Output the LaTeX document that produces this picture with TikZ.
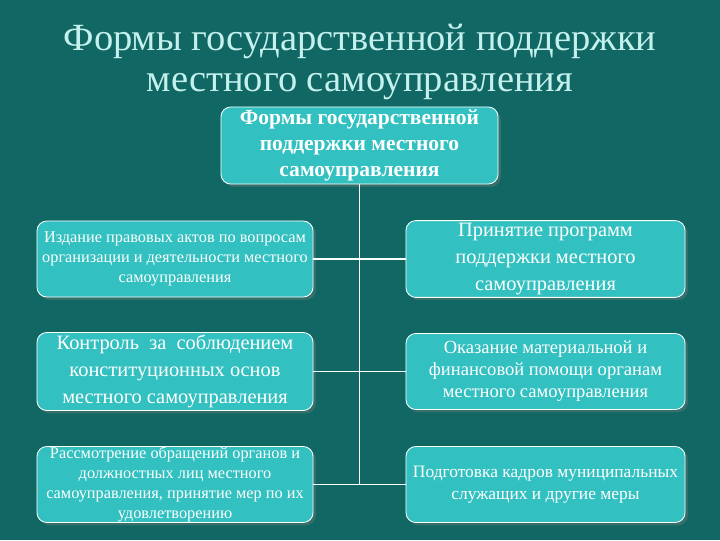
\documentclass[tikz,border=0pt]{standalone}
\usepackage{fontspec}
\setmainfont{Liberation Serif}
\usetikzlibrary{shadows}
\definecolor{bgteal}{RGB}{17,103,99}
\definecolor{boxteal}{RGB}{50,192,192}
\definecolor{titlecyan}{RGB}{196,240,238}

\begin{document}
\begin{tikzpicture}[x=0.025cm, y=-0.025cm,
    formbox/.style={draw=white, line width=0.6pt, fill=boxteal, rounded corners=7pt,
        align=center, text=white, inner sep=2pt, minimum height=1.9cm,
        drop shadow={opacity=0.35, shadow xshift=2pt, shadow yshift=-2pt}},
    link/.style={draw=white, line width=1.4pt}]
    \fill[bgteal] (0,0) rectangle (720,540);

    \node[text=titlecyan, font=\fontsize{27.4}{28.5}\selectfont, align=center] (title) at (360,62)
        {Формы государственной поддержки\\местного самоуправления};

    \node[formbox, minimum width=6.925cm, minimum height=1.875cm, font=\fontsize{15.3}{18.5}\selectfont\bfseries] (top) at (359.5,145.5)
        {Формы государственной\\поддержки местного\\самоуправления};

    % left column
    \node[formbox, minimum width=6.9cm, font=\fontsize{11.6}{14.2}\selectfont] (acts) at (175,259)
        {Издание правовых актов по вопросам\\организации и деятельности местного\\самоуправления};
    \node[formbox, minimum width=6.9cm, font=\fontsize{14.5}{19}\selectfont] (control) at (175,371.5)
        {Контроль\ \ за\ \ соблюдением\\конституционных основ\\местного самоуправления};
    \node[formbox, minimum width=6.9cm, inner ysep=0pt, font=\fontsize{11.6}{14.4}\selectfont] (appeals) at (175,484.5)
        {Рассмотрение обращений органов и\\должностных лиц местного\\самоуправления, принятие мер по их\\удовлетворению};

    % right column
    \node[formbox, minimum width=6.975cm, font=\fontsize{14.5}{19}\selectfont] (programs) at (545.5,259)
        {Принятие программ\\поддержки местного\\самоуправления};
    \node[formbox, minimum width=6.975cm, font=\fontsize{13.2}{15.6}\selectfont] (aid) at (545.5,371.5)
        {Оказание материальной и\\финансовой помощи органам\\местного самоуправления};
    \node[formbox, minimum width=6.975cm, font=\fontsize{12.4}{15.5}\selectfont] (staff) at (545.5,484.5)
        {Подготовка кадров муниципальных\\служащих и другие меры};

    \coordinate (trunk) at (359.5,484.5);
    \draw[link] (top.south) -- (trunk);
    \foreach \b in {acts,control,appeals}
        \draw[link] (\b.east) -- (\b.east -| trunk);
    \foreach \b in {programs,aid,staff}
        \draw[link] (\b.west) -- (\b.west -| trunk);
\end{tikzpicture}
\end{document}
